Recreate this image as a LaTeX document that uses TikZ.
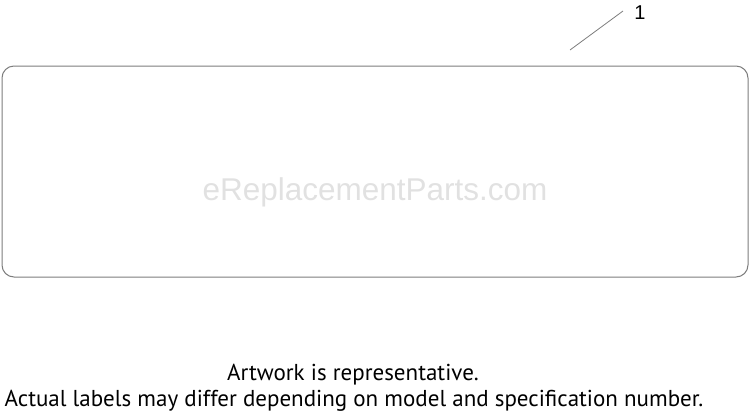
\documentclass[tikz,border=0pt]{standalone}
\usepackage{fontspec}
\setmainfont{Liberation Sans}
\newfontfamily\notefont{PT Sans}
\usetikzlibrary{positioning}
\definecolor{partline}{RGB}{125,125,125}
\definecolor{markgray}{RGB}{225,225,225}

\begin{document}
\begin{tikzpicture}[x=1pt,y=-1pt,line width=1pt,
  callout/.style={font=\fontsize{20}{20}\selectfont,inner sep=0pt},
  note/.style={font=\notefont\fontsize{23}{24}\selectfont,inner sep=0pt}]
  \useasboundingbox (0,0) rectangle (750,416);
  % label sheet
  \draw[partline,rounded corners=12pt] (2,66) rectangle (748,277);
  \node[markgray,font=\fontsize{31.5}{32}\selectfont,inner sep=0pt] (mark) at (375,192) {eReplacementParts.com};
  % callout
  \node[callout] (one) at (640,13) {1};
  \coordinate (lead) at (570,50);
  \draw[partline,line width=0.8pt] (lead) -- ([xshift=-17pt,yshift=2pt]one.center);
  % notes
  \node[note] (art) at (353,375) {Artwork is representative.};
  \node[note] (actual) at (354,401) {Actual labels may differ depending on model and specification number.};
\end{tikzpicture}
\end{document}
